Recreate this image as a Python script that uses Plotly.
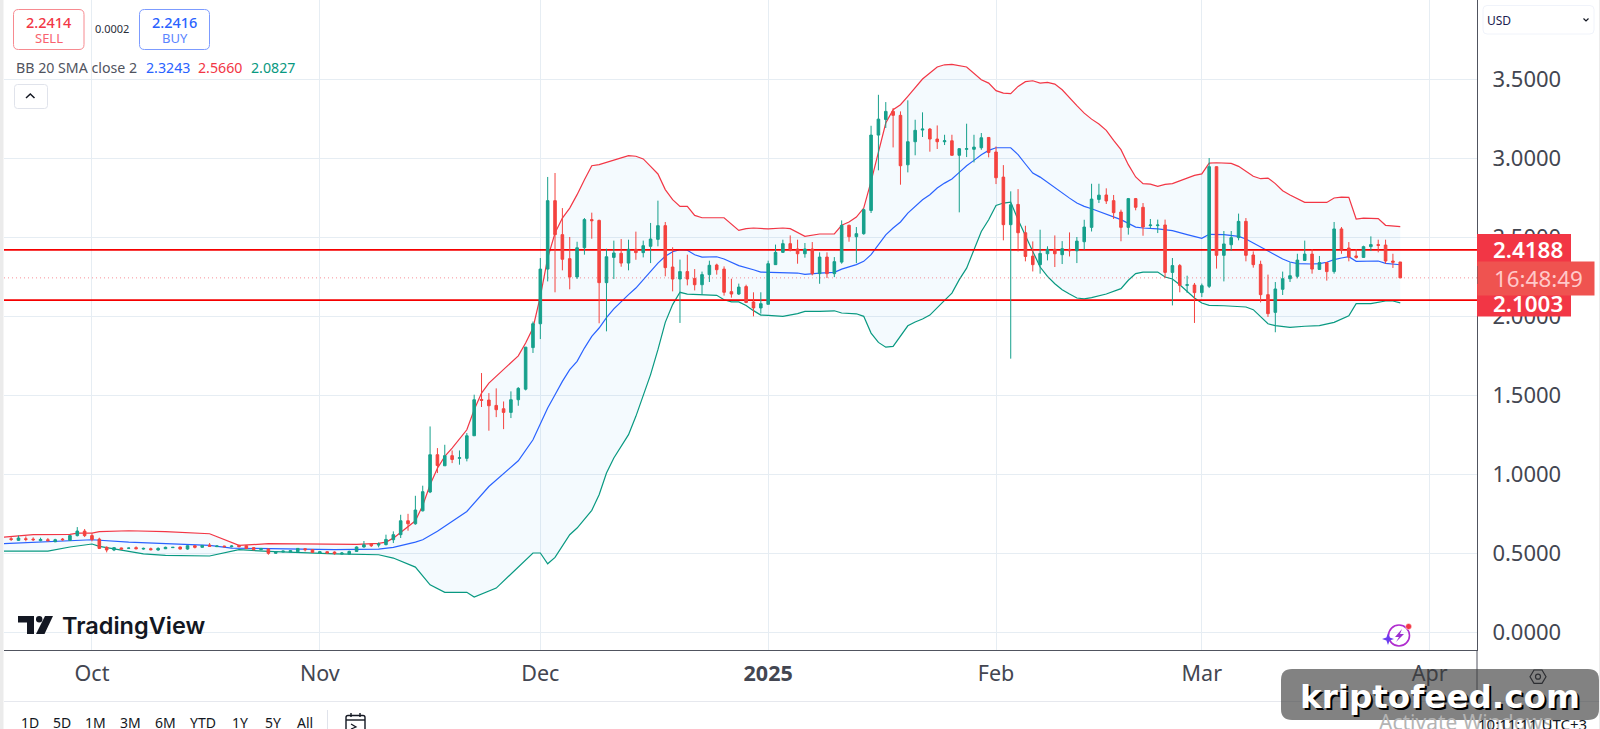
import pandas as pd
import plotly.graph_objects as go

# Daily candles, 2024-09-20 to 2025-03-28
days = pd.date_range("2024-09-20", "2025-03-28", freq="D")

opens = [
    .590,.580,.590,.588,.578,.584,.571,.588,.580,.610,.639,
    .610,.588,.536,.519,.532,.530,.534,.525,.527,.519,.527,.534,.538,.525,.546,.536,.550,.540,.544,.540,.548,.546,.534,.521,.525,.498,.506,.506,.508,.527,.521,
    .500,.508,.506,.493,.493,.510,.538,.557,.550,.553,.584,.616,.704,.685,.767,.886,1.122,1.052,1.116,1.099,1.099,1.242,1.472,1.468,1.434,1.413,1.390,1.470,1.537,1.800,
    1.951,2.297,2.730,2.515,2.363,2.247,2.432,2.610,2.605,2.211,2.371,2.397,2.335,2.422,2.401,2.441,2.485,2.572,2.310,2.234,2.281,2.238,2.198,2.262,2.323,2.297,2.154,2.139,2.186,2.089,2.051,
    2.074,2.325,2.403,2.458,2.424,2.394,2.424,2.268,2.373,2.268,2.341,2.574,2.502,2.521,2.668,3.145,3.244,3.295,3.270,2.957,3.103,3.177,3.183,3.120,3.103,3.109,3.017,3.055,3.055,3.065,3.130,
    3.038,2.879,2.578,2.706,2.527,2.379,2.325,2.394,2.422,2.388,2.422,2.413,2.470,2.561,2.738,2.766,2.730,2.658,2.561,2.743,2.688,2.572,2.572,2.576,2.276,2.319,2.194,2.196,
    2.148,2.188,2.945,2.384,2.451,2.496,2.599,2.386,2.327,2.135,2.023,2.169,2.236,2.251,2.352,2.392,2.295,2.338,2.281,2.551,2.430,2.380,2.371,2.439,2.452,2.449,2.348,2.342,
]
highs = [
    .601,.610,.605,.599,.597,.595,.590,.595,.614,.664,.652,
    .626,.597,.542,.538,.534,.534,.542,.534,.534,.536,.540,.538,.540,.548,.550,.550,.563,.548,.546,.550,.552,.550,.538,.531,.529,.510,.515,.519,.531,.531,.525,
    .512,.512,.510,.506,.515,.542,.576,.563,.567,.616,.637,.742,.748,.862,.926,1.301,1.164,1.185,1.149,1.149,1.259,1.502,1.639,1.512,1.542,1.459,1.523,1.550,1.803,1.965,
    2.367,2.880,2.905,2.683,2.500,2.470,2.620,2.654,2.610,2.426,2.477,2.487,2.483,2.534,2.477,2.589,2.730,2.595,2.435,2.357,2.388,2.297,2.281,2.350,2.331,2.314,2.236,2.205,2.198,2.150,2.150,
    2.350,2.452,2.483,2.510,2.483,2.462,2.468,2.403,2.403,2.373,2.605,2.578,2.563,2.679,3.204,3.400,3.354,3.316,3.295,3.365,3.242,3.289,3.190,3.206,3.147,3.147,3.063,3.217,3.147,3.158,3.133,
    3.073,2.955,2.789,2.803,2.571,2.472,2.546,2.441,2.510,2.474,2.529,2.500,2.609,2.837,2.837,2.808,2.766,2.673,2.747,2.747,2.715,2.614,2.610,2.610,2.367,2.329,2.255,2.209,
    2.205,3.000,2.947,2.538,2.538,2.648,2.620,2.409,2.350,2.262,2.215,2.281,2.340,2.394,2.477,2.424,2.380,2.342,2.595,2.563,2.468,2.424,2.445,2.504,2.483,2.483,2.394,2.342,
]
lows = [
    .576,.576,.574,.576,.574,.574,.569,.578,.578,.605,.601,
    .574,.525,.504,.512,.521,.527,.523,.521,.517,.515,.525,.532,.523,.521,.529,.534,.540,.538,.536,.536,.536,.527,.517,.519,.489,.496,.504,.504,.506,.510,.500,
    .498,.496,.489,.491,.489,.508,.534,.538,.536,.548,.563,.595,.641,.679,.763,.879,1.006,1.052,1.069,1.059,1.080,1.242,1.424,1.274,1.360,1.284,1.354,1.432,1.529,1.766,
    1.854,2.219,2.150,2.289,2.169,2.234,2.388,2.489,1.954,1.903,2.234,2.312,2.289,2.356,2.371,2.335,2.441,2.251,2.156,1.956,2.194,2.162,2.133,2.215,2.262,2.129,2.116,2.133,2.082,1.998,2.015,
    2.074,2.323,2.399,2.409,2.331,2.369,2.257,2.204,2.240,2.246,2.331,2.470,2.335,2.514,2.652,2.922,3.190,3.067,2.831,2.909,3.017,3.133,3.040,3.057,3.082,3.014,2.656,3.006,2.972,3.052,3.004,
    2.835,2.479,1.730,2.409,2.346,2.282,2.268,2.352,2.310,2.329,2.377,2.335,2.419,2.535,2.715,2.709,2.614,2.473,2.515,2.669,2.508,2.555,2.525,2.240,2.067,2.150,2.146,1.956,
    2.120,2.177,2.300,2.219,2.413,2.479,2.346,2.306,2.086,1.994,1.897,2.133,2.215,2.238,2.350,2.268,2.293,2.224,2.268,2.394,2.346,2.363,2.369,2.411,2.403,2.331,2.304,2.2414,
]
closes = [
    .586,.595,.586,.584,.586,.578,.584,.584,.610,.639,.610,
    .586,.529,.519,.534,.525,.531,.527,.529,.521,.529,.536,.536,.525,.546,.536,.548,.542,.544,.540,.544,.540,.529,.521,.529,.498,.508,.512,.515,.529,.521,.504,
    .508,.500,.496,.500,.510,.538,.552,.546,.557,.586,.616,.704,.685,.772,.888,1.122,1.054,1.116,1.092,1.103,1.242,1.470,1.466,1.432,1.407,1.390,1.470,1.542,1.803,1.951,
    2.297,2.730,2.515,2.359,2.247,2.432,2.610,2.603,2.211,2.375,2.399,2.335,2.422,2.401,2.445,2.487,2.572,2.306,2.234,2.281,2.234,2.198,2.262,2.321,2.293,2.150,2.139,2.183,2.086,2.051,2.078,
    2.331,2.403,2.458,2.420,2.394,2.424,2.268,2.373,2.268,2.344,2.574,2.502,2.521,2.673,3.145,3.246,3.295,3.270,2.951,3.103,3.175,3.183,3.120,3.103,3.109,3.017,3.059,3.059,3.069,3.128,3.035,
    2.875,2.578,2.704,2.527,2.377,2.325,2.396,2.422,2.394,2.426,2.413,2.474,2.563,2.740,2.765,2.728,2.654,2.561,2.743,2.688,2.563,2.576,2.576,2.276,2.319,2.194,2.198,2.148,
    2.192,2.945,2.384,2.456,2.496,2.599,2.384,2.325,2.135,2.015,2.171,2.236,2.255,2.354,2.392,2.297,2.338,2.281,2.551,2.422,2.373,2.371,2.439,2.452,2.447,2.348,2.340,2.2414,
]

# Bollinger Bands (20, SMA, close, 2)
upper_dates = [
    "2024-09-19","2024-09-23","2024-09-28","2024-09-29","2024-10-01","2024-10-02","2024-10-06","2024-10-11","2024-10-17","2024-10-21","2024-10-25",
    "2024-11-03","2024-11-06","2024-11-09","2024-11-10","2024-11-11","2024-11-12","2024-11-14","2024-11-15","2024-11-16","2024-11-17","2024-11-18","2024-11-19","2024-11-21",
    "2024-11-22","2024-11-23","2024-11-24","2024-11-28","2024-11-29","2024-11-30","2024-12-01","2024-12-02","2024-12-03","2024-12-04","2024-12-05","2024-12-06","2024-12-07",
    "2024-12-08","2024-12-09","2024-12-11","2024-12-13","2024-12-14","2024-12-15","2024-12-16","2024-12-17","2024-12-18","2024-12-19","2024-12-20","2024-12-21","2024-12-22",
    "2024-12-23","2024-12-26","2024-12-27","2024-12-28","2024-12-29","2024-12-30","2025-01-01","2025-01-03","2025-01-04","2025-01-05","2025-01-06","2025-01-08","2025-01-10",
    "2025-01-11","2025-01-12","2025-01-13","2025-01-14","2025-01-15","2025-01-16","2025-01-17","2025-01-18","2025-01-19","2025-01-20","2025-01-21","2025-01-22","2025-01-23",
    "2025-01-24","2025-01-25","2025-01-26","2025-01-28","2025-01-29","2025-01-30","2025-01-31","2025-02-01","2025-02-02","2025-02-03","2025-02-04","2025-02-05","2025-02-06",
    "2025-02-07","2025-02-08","2025-02-09","2025-02-10","2025-02-11","2025-02-12","2025-02-13","2025-02-14","2025-02-15","2025-02-16","2025-02-17","2025-02-18","2025-02-19",
    "2025-02-20","2025-02-21","2025-02-22","2025-02-23","2025-02-24","2025-02-25","2025-02-26","2025-02-27","2025-02-28","2025-03-01","2025-03-02","2025-03-03","2025-03-05",
    "2025-03-06","2025-03-07","2025-03-08","2025-03-09","2025-03-10","2025-03-11","2025-03-12","2025-03-13","2025-03-14","2025-03-15","2025-03-18","2025-03-19","2025-03-20",
    "2025-03-21","2025-03-22","2025-03-23","2025-03-25","2025-03-26","2025-03-28",
]
upper_band = [
    .601,.616,.618,.626,.626,.635,.641,.635,.622,.548,.559,
    .555,.555,.561,.569,.594,.632,.704,.801,.932,1.037,1.111,1.164,1.280,
    1.407,1.512,1.575,1.748,1.829,1.924,2.124,2.367,2.525,2.620,2.683,2.768,2.863,
    2.951,2.958,2.985,3.015,3.011,2.994,2.947,2.899,2.800,2.736,2.694,2.694,2.637,
    2.622,2.622,2.584,2.542,2.553,2.557,2.551,2.557,2.553,2.530,2.504,2.519,2.519,
    2.574,2.595,2.626,2.683,2.852,3.031,3.221,3.306,3.337,3.390,3.443,3.500,3.538,
    3.576,3.590,3.592,3.576,3.538,3.495,3.474,3.426,3.411,3.407,3.453,3.483,3.489,
    3.474,3.479,3.468,3.432,3.379,3.331,3.284,3.246,3.215,3.175,3.112,3.053,2.958,
    2.880,2.838,2.835,2.821,2.833,2.838,2.854,2.871,2.890,2.899,2.968,2.970,2.966,
    2.947,2.916,2.884,2.869,2.873,2.838,2.793,2.766,2.743,2.719,2.719,2.747,2.753,
    2.751,2.614,2.620,2.616,2.574,2.5660,
]

middle_dates = [
    "2024-09-19","2024-09-23","2024-09-28","2024-10-01","2024-10-06","2024-10-17","2024-10-20","2024-10-25","2024-11-03","2024-11-09","2024-11-11","2024-11-14","2024-11-15",
    "2024-11-17","2024-11-21","2024-11-24","2024-11-28","2024-11-30","2024-12-01","2024-12-02","2024-12-03","2024-12-04","2024-12-05","2024-12-06","2024-12-07","2024-12-08",
    "2024-12-09","2024-12-10","2024-12-11","2024-12-12","2024-12-13","2024-12-14","2024-12-15","2024-12-16","2024-12-17","2024-12-18","2024-12-19","2024-12-20","2024-12-21",
    "2024-12-22","2024-12-23","2024-12-25","2024-12-26","2024-12-28","2024-12-29","2024-12-30","2024-12-31","2025-01-01","2025-01-03","2025-01-05","2025-01-06","2025-01-08",
    "2025-01-10","2025-01-11","2025-01-13","2025-01-14","2025-01-15","2025-01-16","2025-01-17","2025-01-18","2025-01-19","2025-01-20","2025-01-21","2025-01-22","2025-01-23",
    "2025-01-24","2025-01-25","2025-01-26","2025-01-27","2025-01-28","2025-01-29","2025-01-30","2025-01-31","2025-02-01","2025-02-03","2025-02-04","2025-02-05","2025-02-06",
    "2025-02-07","2025-02-09","2025-02-11","2025-02-12","2025-02-13","2025-02-14","2025-02-16","2025-02-18","2025-02-20","2025-02-21","2025-02-23","2025-02-25","2025-02-27",
    "2025-03-01","2025-03-02","2025-03-04","2025-03-06","2025-03-07","2025-03-08","2025-03-09","2025-03-10","2025-03-11","2025-03-12","2025-03-13","2025-03-14","2025-03-16",
    "2025-03-17","2025-03-18","2025-03-19","2025-03-20","2025-03-21","2025-03-22","2025-03-25","2025-03-26","2025-03-28",
]
middle_band = [
    .559,.567,.580,.584,.569,.548,.531,.529,.521,.525,.536,.569,.584,
    .637,.763,.921,1.084,1.217,1.323,1.418,1.502,1.586,1.660,1.713,1.797,1.871,
    1.924,1.990,2.045,2.093,2.135,2.177,2.230,2.283,2.335,2.378,2.407,2.420,2.416,
    2.388,2.373,2.375,2.361,2.319,2.308,2.293,2.278,2.276,2.276,2.272,2.263,2.272,
    2.276,2.297,2.325,2.346,2.388,2.451,2.514,2.557,2.595,2.651,2.694,2.736,2.768,
    2.810,2.841,2.867,2.909,2.951,2.985,3.021,3.048,3.065,3.065,3.021,2.962,2.905,
    2.879,2.810,2.746,2.715,2.694,2.679,2.647,2.610,2.563,2.557,2.551,2.540,2.515,
    2.492,2.517,2.515,2.504,2.487,2.462,2.437,2.413,2.388,2.361,2.342,2.331,2.329,
    2.331,2.340,2.357,2.367,2.375,2.346,2.348,2.333,2.3243,
]

lower_dates = [
    "2024-09-19","2024-09-25","2024-09-28","2024-10-01","2024-10-02","2024-10-06","2024-10-08","2024-10-11","2024-10-17","2024-10-21","2024-10-25","2024-11-03","2024-11-09",
    "2024-11-11","2024-11-14","2024-11-16","2024-11-18","2024-11-21","2024-11-22","2024-11-25","2024-11-30","2024-12-01","2024-12-02","2024-12-03","2024-12-05","2024-12-06",
    "2024-12-08","2024-12-09","2024-12-10","2024-12-11","2024-12-13","2024-12-14","2024-12-15","2024-12-16","2024-12-17","2024-12-18","2024-12-19","2024-12-20","2024-12-21",
    "2024-12-22","2024-12-25","2024-12-26","2024-12-27","2024-12-28","2024-12-29","2024-12-30","2024-12-31","2025-01-01","2025-01-03","2025-01-05","2025-01-06","2025-01-08",
    "2025-01-10","2025-01-11","2025-01-13","2025-01-14","2025-01-15","2025-01-16","2025-01-17","2025-01-18","2025-01-19","2025-01-20","2025-01-21","2025-01-22","2025-01-23",
    "2025-01-24","2025-01-25","2025-01-26","2025-01-27","2025-01-28","2025-01-29","2025-01-30","2025-01-31","2025-02-01","2025-02-02","2025-02-03","2025-02-04","2025-02-05",
    "2025-02-06","2025-02-07","2025-02-08","2025-02-09","2025-02-10","2025-02-11","2025-02-12","2025-02-13","2025-02-14","2025-02-16","2025-02-18","2025-02-19","2025-02-20",
    "2025-02-21","2025-02-23","2025-02-24","2025-02-25","2025-02-26","2025-02-27","2025-02-28","2025-03-01","2025-03-02","2025-03-04","2025-03-06","2025-03-07","2025-03-08",
    "2025-03-09","2025-03-10","2025-03-11","2025-03-13","2025-03-15","2025-03-17","2025-03-19","2025-03-20","2025-03-21","2025-03-22","2025-03-24","2025-03-26","2025-03-27","2025-03-28",
]
lower_band = [
    .512,.512,.538,.557,.542,.510,.494,.485,.481,.521,.510,.494,.489,
    .468,.411,.299,.251,.251,.221,.278,.500,.500,.432,.472,.616,.658,
    .770,.869,1.006,1.101,1.249,1.365,1.491,1.629,1.787,1.960,2.072,2.150,2.139,
    2.137,2.131,2.103,2.089,2.089,2.067,2.034,2.006,2.004,1.998,2.015,2.029,2.029,
    2.033,2.019,2.014,1.998,1.892,1.833,1.803,1.808,1.871,1.938,1.962,1.981,2.006,
    2.050,2.099,2.145,2.230,2.303,2.419,2.535,2.609,2.700,2.715,2.721,2.609,2.504,
    2.409,2.310,2.251,2.204,2.166,2.139,2.114,2.109,2.116,2.139,2.173,2.226,2.268,
    2.278,2.278,2.247,2.234,2.198,2.156,2.114,2.082,2.067,2.065,2.059,2.057,2.040,
    1.998,1.951,1.939,1.928,1.935,1.939,1.960,1.983,2.002,2.078,2.078,2.095,2.095,2.0827,
]

sell_price, buy_price, spread = "2.2414", "2.2416", "0.0002"
resistance, support, last_price = 2.4188, 2.1003, 2.2414
y_ticks = [0, 0.5, 1, 1.5, 2, 2.5, 3, 3.5]
month_ticks = ["2024-10-01", "2024-11-01", "2024-12-01", "2025-01-01", "2025-02-01", "2025-03-01", "2025-04-01"]
month_labels = ["Oct", "Nov", "Dec", "<b>2025</b>", "Feb", "Mar", "Apr"]
range_buttons = ["1D", "5D", "1M", "3M", "6M", "YTD", "1Y", "5Y", "All"]
button_x = [30, 62, 95, 130, 165, 203, 240, 273, 305]

assert len(days) == len(opens) == len(highs) == len(lows) == len(closes), (len(days), len(opens), len(highs), len(lows), len(closes))
assert len(upper_dates) == len(upper_band), (len(upper_dates), len(upper_band))
assert len(middle_dates) == len(middle_band), (len(middle_dates), len(middle_band))
assert len(lower_dates) == len(lower_band), (len(lower_dates), len(lower_band))

FONT = "Noto Sans"
RED, GREEN, BLUE = "#f23645", "#089981", "#2962ff"
CANDLE_UP, CANDLE_DOWN = "#16a08c", "#f4433f"
GRID = "#e6edf3"
AXIS = "#50535e"
W, H = 1600, 729
LEFT, RIGHT, BOTTOM = 4, 1477, 650
X_RANGE = ["2024-09-19 00:43", "2025-04-07 10:33"]
Y_RANGE = [-0.1139, 4.0]


def px(x):
    return (x - LEFT) / (RIGHT - LEFT)


def py(y):
    return 1 - y / BOTTOM


def rounded(x0, y0, x1, y1, r):
    """SVG path for a rounded rectangle, given in page pixels."""
    return (
        f"M{px(x0 + r)},{py(y0)} L{px(x1 - r)},{py(y0)} Q{px(x1)},{py(y0)} {px(x1)},{py(y0 + r)} "
        f"L{px(x1)},{py(y1 - r)} Q{px(x1)},{py(y1)} {px(x1 - r)},{py(y1)} L{px(x0 + r)},{py(y1)} "
        f"Q{px(x0)},{py(y1)} {px(x0)},{py(y1 - r)} L{px(x0)},{py(y0 + r)} Q{px(x0)},{py(y0)} {px(x0 + r)},{py(y0)} Z"
    )


def poly(points, close=True):
    body = " L".join(f"{px(x)},{py(y)}" for x, y in points)
    return "M" + body + (" Z" if close else "")


shapes = []


def add_path(path, fill="rgba(0,0,0,0)", line=None, width=1):
    shapes.append(dict(type="path", path=path, xref="paper", yref="paper", layer="above",
                       fillcolor=fill, line=dict(color=line or "rgba(0,0,0,0)", width=width if line else 0)))


def add_circle(cx, cy, r, fill="rgba(0,0,0,0)", line=None, width=1):
    shapes.append(dict(type="circle", xref="paper", yref="paper", layer="above",
                       x0=px(cx - r), x1=px(cx + r), y0=py(cy + r), y1=py(cy - r),
                       fillcolor=fill, line=dict(color=line or "rgba(0,0,0,0)", width=width if line else 0)))


notes = []


def text(x, y, s, size=13, color="#131722", anchor="center", family=FONT, weight=None):
    font = dict(family=family, size=size, color=color)
    if weight:
        font["weight"] = weight
    notes.append(dict(x=px(x), y=py(y), xref="paper", yref="paper", text=s, showarrow=False,
                      xanchor=anchor, yanchor="middle", borderpad=0, font=font))


fig = go.Figure()

# Band outline with its fill, then the basis line and the level lines
fig.add_trace(go.Scatter(x=upper_dates, y=upper_band, mode="lines", line=dict(color=RED, width=1.2)))
fig.add_trace(go.Scatter(x=lower_dates, y=lower_band, mode="lines", line=dict(color=GREEN, width=1.2),
                         fill="tonexty", fillcolor="rgba(33,150,243,0.05)"))
fig.add_trace(go.Scatter(x=middle_dates, y=middle_band, mode="lines", line=dict(color=BLUE, width=1.2)))
for level, style in ((resistance, dict(color="#f50000", width=1.6)),
                     (support, dict(color="#f50000", width=1.6)),
                     (last_price, dict(color="rgba(242,54,69,0.55)", width=1, dash="1px,3px"))):
    fig.add_trace(go.Scatter(x=X_RANGE, y=[level, level], mode="lines", line=style))

# Candles sit on an overlaid axis pair so they draw above the band lines
fig.add_trace(go.Candlestick(
    x=days, open=opens, high=highs, low=lows, close=closes, xaxis="x2", yaxis="y2",
    whiskerwidth=0,
    increasing=dict(line=dict(color=CANDLE_UP, width=1), fillcolor=CANDLE_UP),
    decreasing=dict(line=dict(color=CANDLE_DOWN, width=1), fillcolor=CANDLE_DOWN),
))

# Page frame
add_path(poly([(0, 0), (LEFT - 0.5, 0), (LEFT - 0.5, H), (0, H)]), fill="#ebebeb")
add_path(poly([(1599, 0), (1600, 0), (1600, H), (1599, H)]), fill="#ececec")
add_path(poly([(LEFT, 701.5), (W, 701.5)], close=False), line="#e6e8ee", width=1)
add_path(poly([(RIGHT, BOTTOM), (RIGHT, 700)], close=False), line=AXIS, width=1)

# Order ticket
add_path(rounded(13.5, 9.5, 84, 49.5, 5), fill="#ffffff", line="#f78a90", width=1)
add_path(rounded(139.5, 9.5, 209.5, 49.5, 5), fill="#ffffff", line="#7c9bff", width=1)
text(49, 22, sell_price, 14.5, RED, weight=500)
text(49, 38.5, "SELL", 13, "#f8626e")
text(112, 28.5, spread, 11, "#2a2e39")
text(174.5, 22, buy_price, 14.5, BLUE, weight=500)
text(174.5, 38.5, "BUY", 13, "#5a85ff")

# Indicator legend
text(14.5, 68, "BB 20 SMA close 2", 14.2, "#50535e", "left")
text(145, 68, "2.3243", 14.2, BLUE, "left")
text(197, 68, "2.5660", 14.2, RED, "left")
text(250, 68, "2.0827", 14.2, GREEN, "left")
add_path(rounded(14.5, 84.5, 47.5, 108.5, 3), fill="#ffffff", line="#e0e3eb", width=1)
add_path(poly([(26, 98), (30.3, 94), (34.5, 98)], close=False), line="#131722", width=1.5)

# Currency selector
add_path(rounded(1483, 5.5, 1594, 34, 4), fill="#ffffff", line="#f0f3fa", width=1)
text(1486.5, 20, "USD", 12, "#1b2050", "left")
add_path(poly([(1583.5, 18.5), (1586, 21), (1588.5, 18.5)], close=False), line="#131722", width=1.2)

# Price scale tags; the countdown tag overlaps the lower tag's text
add_path(poly([(RIGHT, 234), (1571, 234), (1571, 266), (RIGHT, 266)]), fill="#f23645")
add_path(poly([(RIGHT, 284), (1571, 284), (1571, 316.5), (RIGHT, 316.5)]), fill="#f23645")
text(1528, 249, f"{resistance:.4f}", 22.4, "#ffffff", weight=600)
text(1528, 303, f"{support:.4f}", 22.4, "#ffffff", weight=600)
notes.append(dict(x=px(RIGHT), y=py(278.2), xref="paper", yref="paper", text=" ", showarrow=False,
                  xanchor="left", yanchor="middle", width=116, height=32.5, borderpad=0, bgcolor="#ef5350"))
text(1538.5, 278, "16:48:49", 22.4, "#ffc9c9")

# Wordmark
add_path(poly([(18, 616), (34, 616), (34, 634), (27, 634), (27, 622.5), (18, 622.5)]), fill="#131722")
add_circle(39.2, 619.3, 3.2, fill="#131722")
add_path(poly([(45, 616), (53, 616), (44.5, 634), (36, 634)]), fill="#131722")
text(61, 625.5, "TradingView", 23.5, "#131722", "left", "Inter", weight=600)

# Alert badge
add_circle(1399, 635.5, 10.5, line="#b02ccf", width=1.6)
add_path(poly([(1402, 629), (1395, 637), (1399, 637), (1396, 642), (1404, 634), (1400, 634)]), fill="#9c2fd0")
add_path(poly([(1388, 633), (1389.6, 637.4), (1394, 639), (1389.6, 640.6), (1388, 645), (1386.4, 640.6),
               (1382, 639), (1386.4, 637.4)]), fill="#6a3df0")
add_circle(1408.6, 626.5, 3, fill="#f23645", line="#ffffff", width=0.5)

# Bottom toolbar
for label, x in zip(range_buttons, button_x):
    text(x, 722.5, label, 14, "#131722")
add_path(poly([(327.5, 710), (327.5, 729)], close=False), line="#e0e3eb", width=1)
add_path(rounded(346, 715.5, 365, 735, 2), line="#131722", width=1.4)
add_path(poly([(346, 720), (365, 720)], close=False), line="#131722", width=1.4)
add_path(poly([(351, 713), (351, 717)], close=False), line="#131722", width=1.4)
add_path(poly([(360, 713), (360, 717)], close=False), line="#131722", width=1.4)
add_path(poly([(351, 724), (356, 727), (351, 729)], close=False), line="#131722", width=1.2)

# Axis settings glyph
add_path(poly([(1530, 676.7), (1534, 670), (1542, 670), (1546, 676.7), (1542, 683.4), (1534, 683.4)]),
         line="#131722", width=1.2)
add_circle(1538, 676.7, 2.5, line="#131722", width=1.2)

# Footer clock and operating-system notice
text(1466, 722, "Activate Windows", 21, "#b4b4b4")
text(1532, 723.5, "10:11:11 UTC+3", 15, "#131722")

# Publisher badge
add_path(rounded(1281, 669, 1599, 720, 11), fill="rgba(60,60,60,0.64)")
text(1442, 699, "<b>kriptofeed.com</b>", 32.6, "#000000", family="DejaVu Sans")
text(1440, 696.5, "<b>kriptofeed.com</b>", 32.6, "#ffffff", family="DejaVu Sans")

fig.update_layout(
    width=W, height=H, margin=dict(l=LEFT, r=W - RIGHT, t=0, b=H - BOTTOM, pad=0),
    paper_bgcolor="#ffffff", plot_bgcolor="#ffffff", showlegend=False, hovermode=False,
    boxgap=0.5, font=dict(family=FONT, color="#434651"),
    xaxis=dict(type="date", range=X_RANGE, showgrid=True, gridcolor=GRID, gridwidth=1, zeroline=False,
               tickmode="array", tickvals=month_ticks, ticktext=month_labels, ticks="",
               tickfont=dict(family=FONT, size=21.5, color="#434651"), ticklabelstandoff=4,
               showline=True, linecolor=AXIS, linewidth=1, rangeslider=dict(visible=False), automargin=False),
    yaxis=dict(side="right", range=Y_RANGE, showgrid=True, gridcolor=GRID, gridwidth=1, zeroline=False,
               tickmode="array", tickvals=y_ticks, tickformat=".4f", ticks="",
               tickfont=dict(family=FONT, size=22, color="#434651"), ticklabelstandoff=10,
               showline=True, linecolor=AXIS, linewidth=1, automargin=False),
    xaxis2=dict(type="date", overlaying="x", range=X_RANGE, visible=False, rangeslider=dict(visible=False)),
    yaxis2=dict(overlaying="y", range=Y_RANGE, visible=False),
    shapes=shapes, annotations=notes,
)

fig.write_html("out.html", config=dict(displayModeBar=False, responsive=False))
